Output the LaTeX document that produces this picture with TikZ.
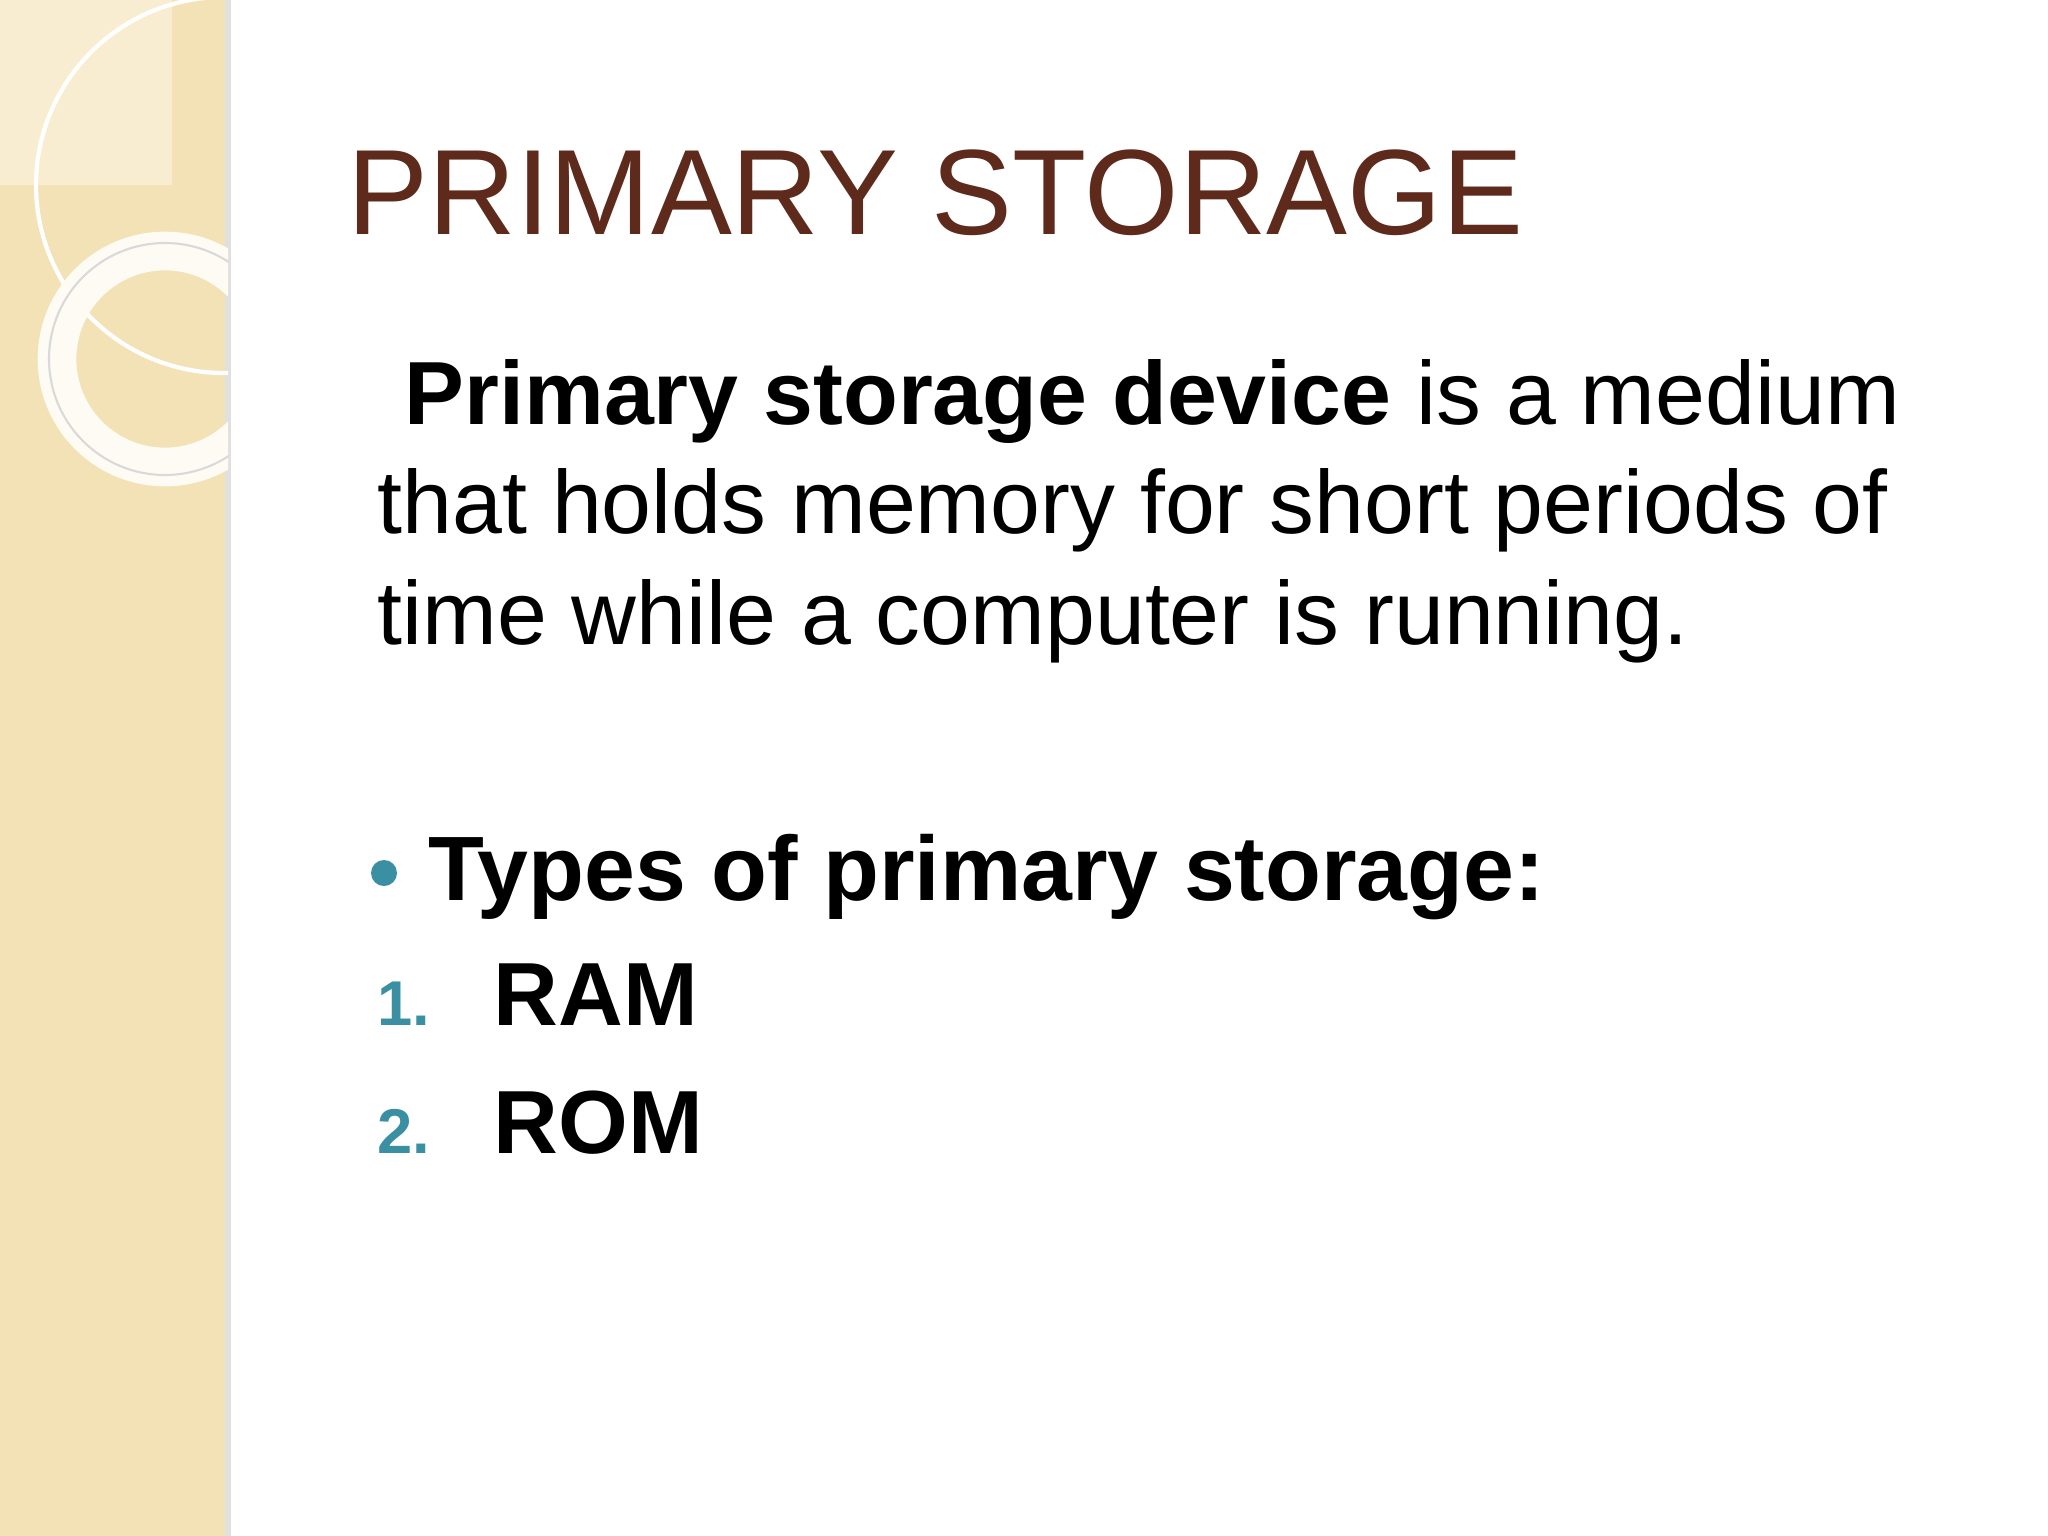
\documentclass[tikz,border=0pt]{standalone}
\usepackage{fontspec}
\setmainfont{Liberation Sans}
\definecolor{strip}{HTML}{F3E2B6}
\definecolor{stripl}{HTML}{F8EDD0}
\definecolor{title}{HTML}{5E2A1C}
\definecolor{teal}{HTML}{3B8FA3}
\begin{document}
\begin{tikzpicture}[x=0.01cm,y=-0.01cm,
  body/.style={anchor=base west,inner sep=0pt,font=\fontsize{25.5}{30}\selectfont},
  num/.style={anchor=base west,inner sep=0pt,text=teal,font=\fontsize{18}{22}\selectfont\bfseries},
  item/.style={anchor=base west,inner sep=0pt,font=\fontsize{25.5}{32}\selectfont\bfseries}]
\useasboundingbox (0,0) rectangle (2048,1536);
\fill[white] (0,0) rectangle (2048,1536);
\fill[strip] (0,0) rectangle (228,1536);
\draw[black!12,line width=1.5pt] (228,0) -- (228,1536);
\begin{scope}
\clip (0,0) rectangle (228,1536);
\fill[stripl] (0,0) rectangle (172,185);
\draw[white,line width=1.2pt] (224,185) circle (188);
\draw[white!85!strip,line width=11pt] (165,359) circle (108);
\draw[black!15,line width=0.6pt] (165,359) circle (116);
\end{scope}
\node[anchor=base west,inner sep=0pt,text=title,font=\fontsize{34.5}{40}\selectfont] (t) at (347,234) {PRIMARY STORAGE};
\node[body] (l1) at (404,424) {\textbf{Primary storage device} is a medium};
\node[body] (l2) at (377,533) {that holds memory for short periods of};
\node[body] (l3) at (377,644) {time while a computer is running.};
\fill[teal] (384,873) circle (13) coordinate (b);
\node[anchor=base west,inner sep=0pt,font=\fontsize{26}{30}\selectfont\bfseries] (ty) at (428,900) {Types of primary storage:};
\node[num] (n1) at (377,1025) {1.};
\node[item] (ram) at (493,1025) {RAM};
\node[num] (n2) at (377,1153) {2.};
\node[item] (rom) at (493,1153) {ROM};
\end{tikzpicture}
\end{document}
